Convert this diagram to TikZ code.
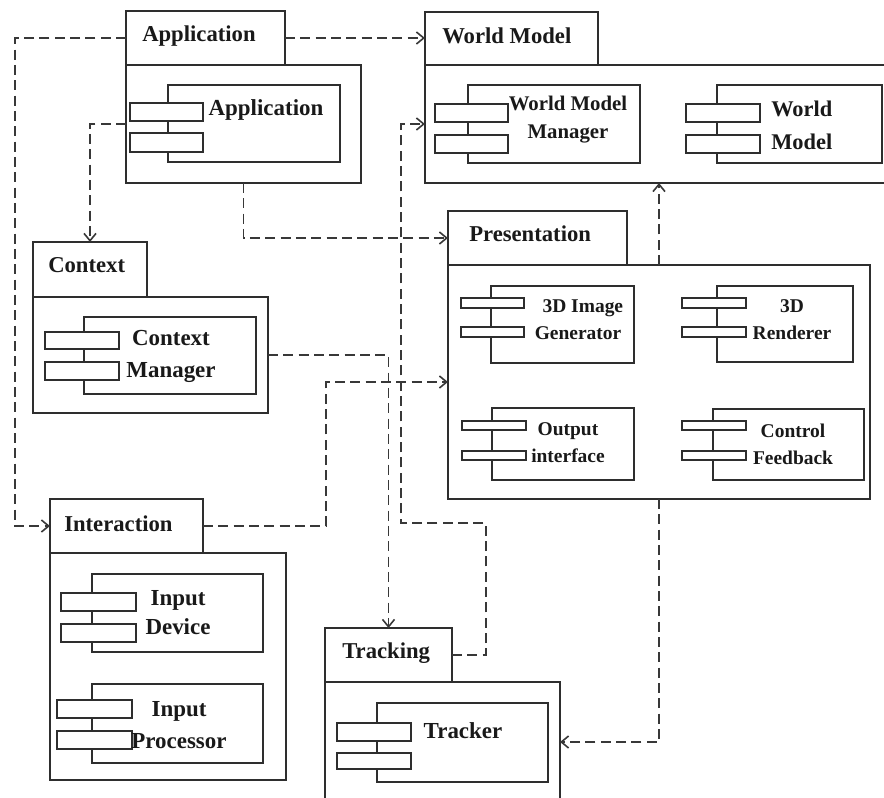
\documentclass[tikz,border=0pt]{standalone}
\usepackage{fontspec}
\setmainfont{Liberation Serif}
\usetikzlibrary{fit,arrows.meta}
\begin{document}
\begin{tikzpicture}[x=0.75pt,y=-0.75pt,
  box/.style={draw=black!82, line width=1.5pt, inner sep=0pt, outer sep=0pt, fill=white},
  port/.style={draw=black!82, line width=1.4pt, inner sep=0pt, outer sep=0pt, fill=white},
  conn/.style={draw=black!78, line width=1.3pt, dash pattern=on 7.5pt off 4pt},
  arr/.style={conn, -{Straight Barb[length=5.5pt,width=9pt,line width=1.2pt]}},
  ttl/.style={font=\fontsize{17}{20}\selectfont\bfseries, inner sep=0pt, text=black!90},
  tA/.style={font=\fontsize{17.2}{24}\selectfont\bfseries, inner sep=0pt, align=center, text=black!90},
  tW/.style={font=\fontsize{15.6}{21}\selectfont\bfseries, inner sep=0pt, align=center, text=black!90},
  tM/.style={font=\fontsize{16.8}{24.75}\selectfont\bfseries, inner sep=0pt, align=left, text=black!90},
  tP/.style={font=\fontsize{14.6}{20.25}\selectfont\bfseries, inner sep=0pt, align=center, text=black!90}
]
\useasboundingbox (0,0) rectangle (884,798);
\clip (0,0) rectangle (884,798);

% ---------- Application ----------
\node[box, fit={(126,11)(285,65)}] (apptab) {};
\node[box, fit={(126,65)(361,183)}] (appout) {};
\node[ttl, anchor=west] (apptitle) at (142,36) {Application};
\node[box, fit={(168,85)(340,162)}] (appc) {};
\node[port, fit={(130,103)(203,121)}] (appc1) {};
\node[port, fit={(130,133)(203,152)}] (appc2) {};
\node[tA] (appct) at (266,110) {Application};

% ---------- World Model ----------
\node[box, fit={(425,12)(598,65)}] (wmtab) {};
\node[box, fit={(425,65)(895,183)}] (wmout) {};
\node[ttl, anchor=west] (wmtitle) at (442,36) {World Model};
\node[box, fit={(468,85)(640,163)}] (wmmc) {};
\node[port, fit={(435,104)(508,122)}] (wmmc1) {};
\node[port, fit={(435,135)(508,153)}] (wmmc2) {};
\node[tW] (wmmct) at (568,120) {World Model\\Manager};
\node[box, fit={(717,85)(882,163)}] (wmc) {};
\node[port, fit={(686,104)(760,122)}] (wmc1) {};
\node[port, fit={(686,135)(760,153)}] (wmc2) {};
\node[tM, anchor=west] (wmct) at (771,125) {World\\Model};

% ---------- Context ----------
\node[box, fit={(33,242)(147,297)}] (ctxtab) {};
\node[box, fit={(33,297)(268,413)}] (ctxout) {};
\node[ttl, anchor=west] (ctxtitle) at (48,265) {Context};
\node[box, fit={(84,317)(256,394)}] (ctxc) {};
\node[port, fit={(45,332)(119,349)}] (ctxc1) {};
\node[port, fit={(45,362)(119,380)}] (ctxc2) {};
\node[tA] (ctxct) at (171,356) {Context\\Manager};

% ---------- Presentation ----------
\node[box, fit={(448,211)(627,265)}] (prestab) {};
\node[box, fit={(448,265)(870,499)}] (presout) {};
\node[ttl, anchor=west] (prestitle) at (469,234) {Presentation};
\node[box, fit={(491,286)(634,363)}] (igc) {};
\node[port, fit={(461,298)(524,308)}] (igc1) {};
\node[port, fit={(461,327)(524,337)}] (igc2) {};
\node[tP] (igct) at (578,320) {\hspace*{0.5em}3D Image\\Generator};
\node[box, fit={(717,286)(853,362)}] (rdc) {};
\node[port, fit={(682,298)(746,308)}] (rdc1) {};
\node[port, fit={(682,327)(746,337)}] (rdc2) {};
\node[tP] (rdct) at (792,320) {3D\\Renderer};
\node[box, fit={(492,408)(634,480)}] (oic) {};
\node[port, fit={(462,421)(526,430)}] (oic1) {};
\node[port, fit={(462,451)(526,460)}] (oic2) {};
\node[tP] (oict) at (568,443) {Output\\interface};
\node[box, fit={(713,409)(864,480)}] (cfc) {};
\node[port, fit={(682,421)(746,430)}] (cfc1) {};
\node[port, fit={(682,451)(746,460)}] (cfc2) {};
\node[tP] (cfct) at (793,444) {Control\\Feedback};

% ---------- Interaction ----------
\node[box, fit={(50,499)(203,553)}] (inttab) {};
\node[box, fit={(50,553)(286,780)}] (intout) {};
\node[ttl, anchor=west] (inttitle) at (64,524) {Interaction};
\node[box, fit={(92,574)(263,652)}] (idc) {};
\node[port, fit={(61,593)(136,611)}] (idc1) {};
\node[port, fit={(61,624)(136,642)}] (idc2) {};
\node[tA, font=\fontsize{17.2}{21.75}\selectfont\bfseries] (idct) at (178,613) {Input\\Device};
\node[box, fit={(92,684)(263,763)}] (ipc) {};
\node[port, fit={(57,700)(132,718)}] (ipc1) {};
\node[port, fit={(57,731)(132,749)}] (ipc2) {};
\node[tA] (ipct) at (179,725) {Input\\Processor};

% ---------- Tracking ----------
\node[box, fit={(325,628)(452,682)}] (trktab) {};
\node[box, fit={(325,682)(560,802)}] (trkout) {};
\node[ttl, anchor=west] (trktitle) at (342,653) {Tracking};
\node[box, fit={(377,703)(548,782)}] (trkc) {};
\node[port, fit={(337,723)(411,741)}] (trkc1) {};
\node[port, fit={(337,753)(411,769)}] (trkc2) {};
\node[tA] (trkct) at (463,731) {Tracker};

% ---------- connectors ----------
\coordinate (bendA) at (401,523);
\draw[arr] (apptab.west) -- ++(-111,0) |- (inttab.west);
\draw[arr] (apptab.east) -- (wmtab.west |- apptab.east);
\draw[arr] (appout.west) -| (ctxtab.north);
\draw[arr] (appout.south) |- (prestab.west);
\draw[arr] (trktab.east) -- ++(34,0) |- (bendA) |- (wmout.west);
\draw[arr] (ctxout.east) -| (trktab.north);
\draw[arr] (inttab.east) -- ++(123,0) |- (presout.west);
\draw[arr] (presout.north) -- (wmout.south -| presout.north);
\draw[arr] (presout.south) |- (trkout.east);
\end{tikzpicture}
\end{document}
